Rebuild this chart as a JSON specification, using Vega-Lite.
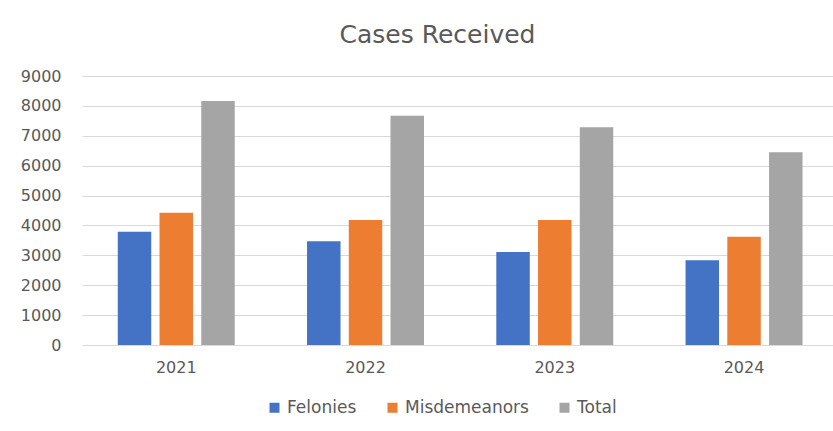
{
  "$schema": "https://vega.github.io/schema/vega-lite/v6.json",
  "width": 751,
  "height": 269,
  "autosize": {"type": "none"},
  "padding": {"left": 82, "top": 76, "right": 0, "bottom": 86},
  "background": "white",
  "title": {
    "text": "Cases Received",
    "font": "DejaVu Sans",
    "fontSize": 25,
    "fontWeight": "normal",
    "color": "#595959",
    "anchor": "middle",
    "frame": "group",
    "dx": -20,
    "offset": 20
  },
  "data": {
    "values": [
      {"year": "2021", "series": "Felonies", "value": 3790},
      {"year": "2021", "series": "Misdemeanors", "value": 4425},
      {"year": "2021", "series": "Total", "value": 8164},
      {"year": "2022", "series": "Felonies", "value": 3469},
      {"year": "2022", "series": "Misdemeanors", "value": 4182},
      {"year": "2022", "series": "Total", "value": 7672},
      {"year": "2023", "series": "Felonies", "value": 3111},
      {"year": "2023", "series": "Misdemeanors", "value": 4182},
      {"year": "2023", "series": "Total", "value": 7283},
      {"year": "2024", "series": "Felonies", "value": 2834},
      {"year": "2024", "series": "Misdemeanors", "value": 3623},
      {"year": "2024", "series": "Total", "value": 6447}
    ]
  },
  "mark": {"type": "bar"},
  "encoding": {
    "x": {
      "field": "year",
      "type": "nominal",
      "scale": {"paddingInner": 0.382, "paddingOuter": 0.175, "align": 0.54},
      "axis": {
        "title": null,
        "labelAngle": 0,
        "ticks": false,
        "domain": false,
        "labelPadding": 14,
        "labelFont": "DejaVu Sans",
        "labelFontSize": 16,
        "labelColor": "#595959"
      }
    },
    "xOffset": {
      "field": "series",
      "type": "nominal",
      "scale": {"paddingInner": 0.198, "paddingOuter": 0}
    },
    "y": {
      "field": "value",
      "type": "quantitative",
      "scale": {"domain": [0, 9000], "nice": false},
      "axis": {
        "title": null,
        "values": [0, 1000, 2000, 3000, 4000, 5000, 6000, 7000, 8000, 9000],
        "format": "d",
        "ticks": false,
        "domain": false,
        "labelPadding": 21,
        "labelFont": "DejaVu Sans",
        "labelFontSize": 16,
        "labelColor": "#595959",
        "gridColor": "#D9D9D9",
        "gridWidth": 1
      }
    },
    "color": {
      "field": "series",
      "type": "nominal",
      "scale": {
        "domain": ["Felonies", "Misdemeanors", "Total"],
        "range": ["#4472C4", "#ED7D31", "#A5A5A5"]
      },
      "legend": {
        "title": null,
        "orient": "none",
        "direction": "horizontal",
        "legendX": 184,
        "legendY": 323,
        "symbolType": "square",
        "symbolSize": 100,
        "symbolStrokeWidth": 0,
        "labelFont": "DejaVu Sans",
        "labelFontSize": 17,
        "labelColor": "#595959",
        "labelOffset": 4,
        "columnPadding": 27,
        "padding": 0
      }
    }
  },
  "config": {
    "view": {"stroke": null}
  }
}
